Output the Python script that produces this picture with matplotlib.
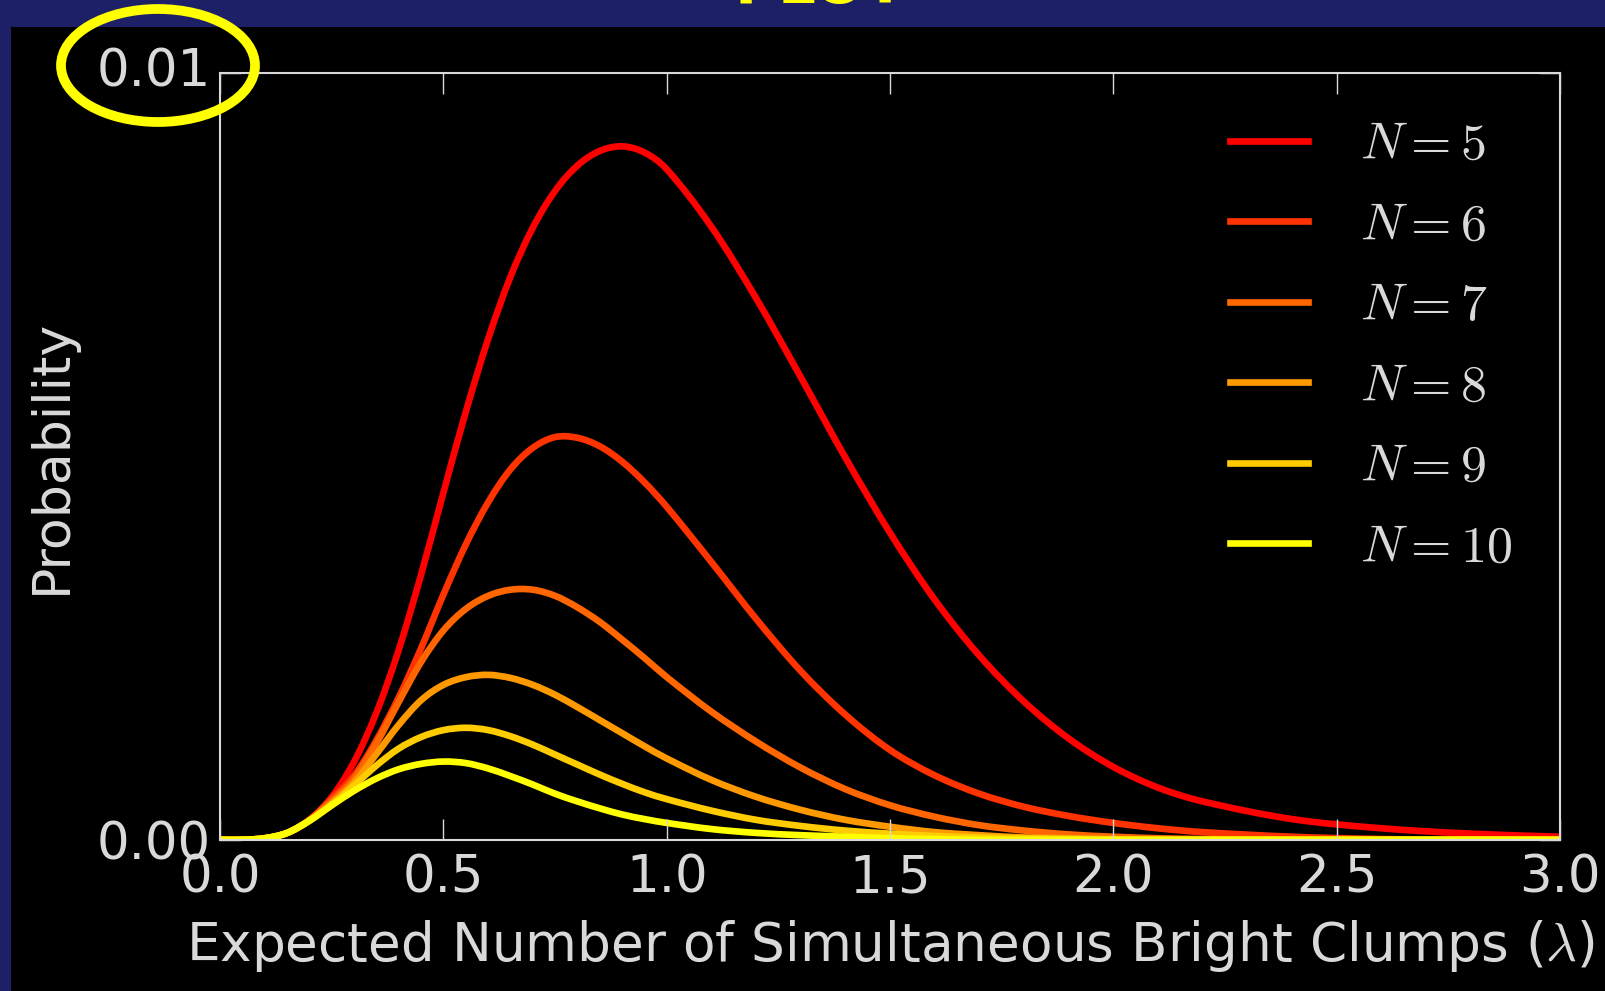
import numpy as np
import matplotlib
matplotlib.use("Agg")
import matplotlib.pyplot as plt
import matplotlib.transforms as mtransforms
from matplotlib.patches import Rectangle, Ellipse, PathPatch
from matplotlib.path import Path
from matplotlib.lines import Line2D
from matplotlib.ticker import FormatStrFormatter

plt.rcParams["mathtext.fontset"] = "cm"
plt.rcParams["font.family"] = ["DejaVu Sans"]

# Expected number of simultaneous bright clumps
lam = [0.0, 0.05, 0.1, 0.15, 0.2, 0.25, 0.3, 0.35, 0.4, 0.45, 0.5, 0.55, 0.6,
       0.65, 0.7, 0.75, 0.8, 0.85, 0.9, 0.95, 1.0, 1.1, 1.2, 1.3, 1.4, 1.5,
       1.6, 1.7, 1.8, 1.9, 2.0, 2.1, 2.2, 2.4, 2.6, 2.8, 3.0]

# Probability curves, one per N
p_n5 = [0, 0, 0.00002, 0.00009, 0.00026, 0.00056, 0.00102, 0.00166, 0.00248,
        0.00346, 0.00453, 0.00558, 0.00653, 0.00734, 0.00798, 0.00846, 0.00879,
        0.00898, 0.00904, 0.00896, 0.00874, 0.00799, 0.00706, 0.00603, 0.00498,
        0.00400, 0.00313, 0.00240, 0.00180, 0.00132, 0.00095, 0.00068, 0.00050,
        0.00027, 0.00015, 0.00008, 0.00004]
p_n6 = [0, 0, 0.00002, 0.00009, 0.00026, 0.00054, 0.00084, 0.00130, 0.00186,
        0.00250, 0.00320, 0.00385, 0.00440, 0.00483, 0.00511, 0.00525, 0.00524,
        0.00513, 0.00493, 0.00466, 0.00434, 0.00362, 0.00288, 0.00220, 0.00163,
        0.00117, 0.00084, 0.00060, 0.00043, 0.00031, 0.00022, 0.00015, 0.00010,
        0.00004, 0.00001, 0, 0]
p_n7 = [0, 0, 0.00002, 0.00009, 0.00026, 0.00051, 0.00080, 0.00126, 0.00180,
        0.00232, 0.00273, 0.00301, 0.00318, 0.00326, 0.00326, 0.00318, 0.00303,
        0.00284, 0.00261, 0.00237, 0.00212, 0.00167, 0.00128, 0.00094, 0.00066,
        0.00045, 0.00030, 0.00019, 0.00012, 0.00007, 0.00004, 0.00002, 0.00001,
        0, 0, 0, 0]
p_n8 = [0, 0, 0.00002, 0.00009, 0.00025, 0.00048, 0.00075, 0.00112, 0.00150,
        0.00182, 0.00202, 0.00212, 0.00215, 0.00211, 0.00202, 0.00189, 0.00173,
        0.00156, 0.00139, 0.00122, 0.00106, 0.00078, 0.00056, 0.00039, 0.00026,
        0.00017, 0.00010, 0.00006, 0.00003, 0.00002, 0.00001, 0, 0, 0, 0, 0, 0]
p_n9 = [0, 0, 0.00002, 0.00009, 0.00025, 0.00046, 0.00071, 0.00097, 0.00119,
        0.00134, 0.00143, 0.00146, 0.00143, 0.00135, 0.00124, 0.00111, 0.00098,
        0.00085, 0.00073, 0.00062, 0.00053, 0.00038, 0.00026, 0.00018, 0.00012,
        0.00008, 0.00005, 0.00003, 0.00002, 0.00001, 0, 0, 0, 0, 0, 0, 0]
p_n10 = [0, 0, 0.00002, 0.00009, 0.00025, 0.00045, 0.00064, 0.00080, 0.00092,
         0.00099, 0.00102, 0.00100, 0.00093, 0.00083, 0.00072, 0.00060, 0.00050,
         0.00041, 0.00033, 0.00027, 0.00022, 0.00014, 0.00009, 0.00006, 0.00004,
         0.00002, 0.00001, 0, 0, 0, 0, 0, 0, 0, 0, 0, 0]

series_labels = [r"$N=5$", r"$N=6$", r"$N=7$", r"$N=8$", r"$N=9$", r"$N=10$"]
x_ticks = [0.0, 0.5, 1.0, 1.5, 2.0, 2.5, 3.0]
y_ticks = [0.0, 0.01]

NAVY = "#1d2066"
FG = "#d9d9d9"
W, H = 1606, 991
LW = 4.8


def smooth_path(xs, ys):
    """Cubic Bezier path through the points, tangents from neighbouring slopes."""
    x = np.asarray(xs, float)
    y = np.asarray(ys, float)
    n = len(x)
    m = np.zeros(n)
    m[0] = (y[1] - y[0]) / (x[1] - x[0])
    m[-1] = (y[-1] - y[-2]) / (x[-1] - x[-2])
    for i in range(1, n - 1):
        m[i] = (y[i + 1] - y[i - 1]) / (x[i + 1] - x[i - 1])
    verts = [(x[0], y[0])]
    codes = [Path.MOVETO]
    for i in range(n - 1):
        h = x[i + 1] - x[i]
        verts += [(x[i] + h / 3, y[i] + m[i] * h / 3),
                  (x[i + 1] - h / 3, y[i + 1] - m[i + 1] * h / 3),
                  (x[i + 1], y[i + 1])]
        codes += [Path.CURVE4] * 3
    return Path(verts, codes)


fig = plt.figure(figsize=(W / 100, H / 100), dpi=100, facecolor=NAVY)
fig.add_artist(Rectangle((11 / W, 0), 1, 1 - 27 / H, transform=fig.transFigure,
                         facecolor="black", edgecolor="none", zorder=-5))

ax = fig.add_axes([220.2 / W, 1 - 839.8 / H, (1560 - 220.2) / W, 767.1 / H])
ax.set_facecolor("black")

colors = [plt.cm.autumn(v) for v in np.linspace(0, 1, 6)]
handles = []
for ys, lab, c in zip([p_n5, p_n6, p_n7, p_n8, p_n9, p_n10], series_labels, colors):
    ax.add_patch(PathPatch(smooth_path(lam, ys), facecolor="none", edgecolor=c,
                           lw=LW, capstyle="round", joinstyle="round"))
    handles.append(Line2D([], [], color=c, lw=LW, label=lab))

ax.set_xlim(0, 3)
ax.set_ylim(0, 0.01)
ax.set_xticks(x_ticks)
ax.set_yticks(y_ticks)
ax.xaxis.set_major_formatter(FormatStrFormatter("%.1f"))
ax.yaxis.set_major_formatter(FormatStrFormatter("%.2f"))
ax.tick_params(direction="in", length=15, width=1, colors=FG, labelsize=37,
               top=True, right=True)
ax.tick_params(axis="x", pad=10)
ax.tick_params(axis="y", pad=7)
for sp in ax.spines.values():
    sp.set_color(FG)
    sp.set_linewidth(1.5)

ax.set_xlabel(r"Expected Number of Simultaneous Bright Clumps ($\lambda$)",
              color=FG, fontsize=38.3, labelpad=10)
ax.set_ylabel("Probability", color=FG, fontsize=37.5, labelpad=14)

leg = ax.legend(handles=handles, loc="upper right", frameon=False, fontsize=37.5,
                handlelength=1.5, handletextpad=1.0, labelspacing=0.585,
                borderaxespad=0.51)
for t in leg.get_texts():
    t.set_color(FG)

# lift the top y tick value a little above the spine
top_label = ax.yaxis.get_major_ticks()[-1].label1
top_label.set_transform(top_label.get_transform()
                        + mtransforms.ScaledTranslation(0, 4.4 / 72, fig.dpi_scale_trans))

# highlight around the top y tick value
fig.add_artist(Ellipse((158 / W, 1 - 65.5 / H), 194 / W, 113 / H,
                       transform=fig.transFigure, fill=False,
                       edgecolor="#ffff00", lw=7, zorder=20))

fig.text(820 / W, 1 - 3 / H, "PLOT", color="#ffff00", fontsize=43,
         fontweight="bold", ha="center", va="baseline")

fig.savefig("out.png", dpi=100, facecolor=NAVY)
